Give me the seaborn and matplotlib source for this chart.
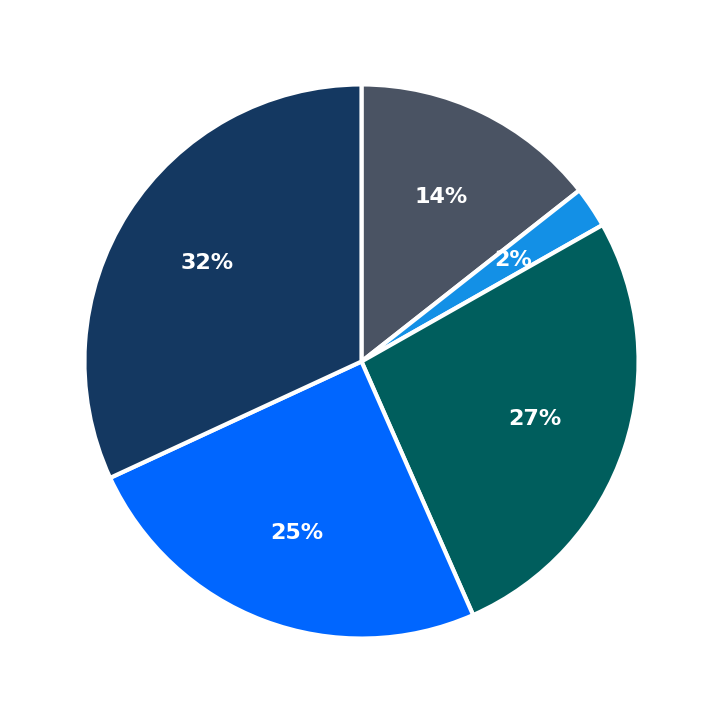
import matplotlib
matplotlib.use("Agg")
import matplotlib.pyplot as plt
import seaborn as sns

sns.set_theme(style="white")
plt.rcParams['font.family'] = ['DejaVu Sans']

values = [14.4, 2.4, 26.6, 24.7, 31.9]
colors = ["#4a5363", "#1390e6", "#005e5d", "#0066ff", "#143861"]

fig = plt.figure(figsize=(7.23, 7.23), dpi=100)
ax = fig.add_axes([0.021, 0.021, 0.958, 0.958])
ax.pie(values, colors=colors, startangle=90, counterclock=False,
       autopct='%.0f%%', pctdistance=0.66,
       wedgeprops=dict(edgecolor='white', linewidth=3),
       textprops=dict(color='white', fontsize=16, fontweight='bold'))
ax.set_aspect('equal')
fig.savefig("out.png", dpi=100, facecolor='white')
